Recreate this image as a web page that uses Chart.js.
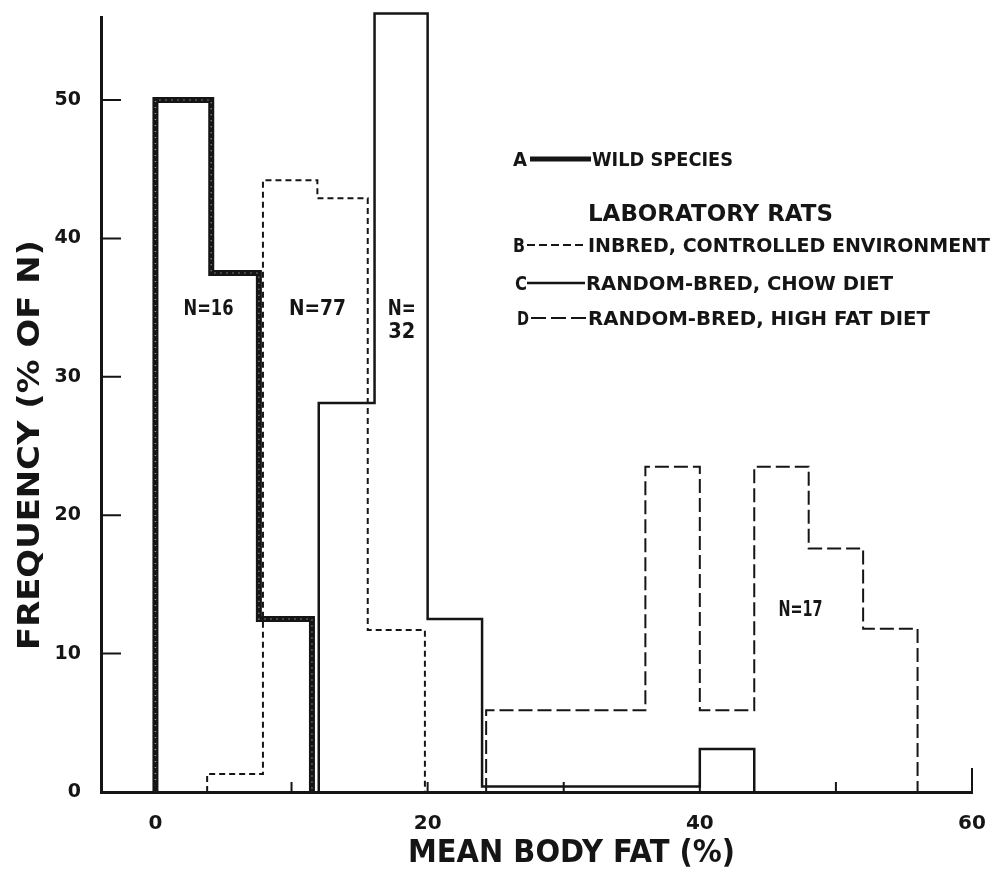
<!DOCTYPE html>
<html>
<head>
<meta charset="utf-8">
<script src="https://cdn.jsdelivr.net/npm/chart.js@4.4.1/dist/chart.umd.min.js"></script>
<style>
  html, body { margin: 0; padding: 0; background: #fff; }
  #wrap { position: relative; width: 993px; height: 875px; }
</style>
</head>
<body>
<div id="wrap"><canvas id="fatChart"></canvas></div>
<script>
// histogram bin edges (mean body fat, %) and frequencies (% of N)
const wildEdges = [0, 4.1, 7.6, 11.5];
const wildFreq = [50, 37.5, 12.5];
const inbredEdges = [3.8, 7.9, 11.9, 15.6, 19.8];
const inbredFreq = [1.3, 44.2, 42.9, 11.7];
const chowEdges = [12, 16.1, 20, 24, 40, 44];
const chowFreq = [28.1, 56.25, 12.5, 0.4, 3.1];
const fatEdges = [24.3, 36, 40, 44, 48, 52, 56];
const fatFreq = [5.9, 23.5, 5.9, 23.5, 17.6, 11.8];

const xTickLabels = [0, 20, 40, 60];
const xTickMarks = [0, 10, 20, 30, 40, 50, 60];
const yTickLabels = [0, 10, 20, 30, 40, 50];

const seriesNames = [
  "WILD SPECIES",
  "INBRED, CONTROLLED ENVIRONMENT",
  "RANDOM-BRED, CHOW DIET",
  "RANDOM-BRED, HIGH FAT DIET",
];
const sampleSizes = ["N=16", "N=77", "N=32", "N=17"];

const FONT = '"DejaVu Sans", sans-serif';
const INK = "#151515";

function histPoints(edges, freq) {
  const pts = [{ x: edges[0], y: 0 }];
  freq.forEach((v, i) => {
    pts.push({ x: edges[i], y: v });
    pts.push({ x: edges[i + 1], y: v });
  });
  pts.push({ x: edges[edges.length - 1], y: 0 });
  return pts;
}

// draws caps text squeezed/stretched to a measured width
function fitText(ctx, text, x, baseline, size, width, align) {
  ctx.save();
  ctx.font = "bold " + size + "px " + FONT;
  const sx = width / ctx.measureText(text).width;
  ctx.translate(x, baseline);
  ctx.scale(sx, 1);
  ctx.textAlign = align || "left";
  ctx.textBaseline = "alphabetic";
  ctx.fillStyle = INK;
  ctx.fillText(text, 0, 0);
  ctx.restore();
}

function swatch(ctx, x1, x2, y, width, dash) {
  ctx.save();
  ctx.strokeStyle = INK;
  ctx.lineWidth = width;
  ctx.setLineDash(dash);
  ctx.beginPath();
  ctx.moveTo(x1, y);
  ctx.lineTo(x2, y);
  ctx.stroke();
  ctx.restore();
}

const decorations = {
  id: "decorations",
  afterDatasetsDraw(chart) {
    const ctx = chart.ctx;
    const xs = chart.scales.x;
    const ys = chart.scales.y;

    // speckle inside the thick wild-species outline
    const pts = chart.getDatasetMeta(0).data;
    ctx.save();
    ctx.strokeStyle = "rgba(255,255,255,0.55)";
    ctx.lineWidth = 1.5;
    ctx.setLineDash([1, 5]);
    ctx.beginPath();
    pts.forEach((p, i) => (i ? ctx.lineTo(p.x, p.y) : ctx.moveTo(p.x, p.y)));
    ctx.stroke();
    ctx.restore();

    // inward tick marks
    ctx.save();
    ctx.strokeStyle = INK;
    ctx.lineWidth = 2;
    ctx.beginPath();
    yTickLabels.forEach((v) => {
      const y = ys.getPixelForValue(v);
      ctx.moveTo(xs.left, y);
      ctx.lineTo(xs.left + 20, y);
    });
    xTickMarks.forEach((v) => {
      const x = xs.getPixelForValue(v);
      ctx.moveTo(x, ys.bottom);
      ctx.lineTo(x, ys.bottom - (v === 60 ? 24 : 10));
    });
    ctx.stroke();
    ctx.restore();

    // sample sizes
    const nAt = (t, xv, yv, w) =>
      fitText(ctx, t, xs.getPixelForValue(xv), ys.getPixelForValue(yv), 22, w, "center");
    nAt(sampleSizes[0], 3.9, 34.5, 50);
    nAt(sampleSizes[1], 11.9, 34.5, 57);
    nAt("N=", 18.1, 34.5, 28);
    nAt(sampleSizes[2].slice(2), 18.1, 32.8, 27);
    nAt(sampleSizes[3], 47.4, 12.7, 44);

    // legend
    fitText(ctx, "A", 513, 166, 19, 14);
    swatch(ctx, 530, 591, 159, 5, []);
    swatch(ctx, 530, 591, 159, 1.2, [1, 4]);
    fitText(ctx, seriesNames[0], 592, 166, 19, 141);

    fitText(ctx, "LABORATORY RATS", 588, 221, 23, 245);

    fitText(ctx, "B", 513, 252, 20, 12);
    swatch(ctx, 527, 587, 245, 2, [8, 4]);
    fitText(ctx, seriesNames[1], 588, 252, 20, 402);

    fitText(ctx, "C", 515, 290, 20, 12);
    swatch(ctx, 527, 585, 283, 2.5, []);
    fitText(ctx, seriesNames[2], 586, 290, 20, 307);

    fitText(ctx, "D", 517, 325, 20, 12);
    swatch(ctx, 531, 587, 318, 2, [15, 5]);
    fitText(ctx, seriesNames[3], 588, 325, 20, 342);

    // axis titles
    fitText(ctx, "MEAN BODY FAT (%)", 408, 862, 32, 327);
    ctx.save();
    ctx.translate(39, 445);
    ctx.rotate(-Math.PI / 2);
    fitText(ctx, "FREQUENCY (% OF N)", 0, 0, 30, 410, "center");
    ctx.restore();
  },
};

const tickFont = { family: FONT, weight: "bold", size: 20 };

new Chart(document.getElementById("fatChart"), {
  type: "line",
  data: {
    datasets: [
      {
        label: seriesNames[0],
        data: histPoints(wildEdges, wildFreq),
        borderColor: INK,
        borderWidth: 6,
      },
      {
        label: seriesNames[1],
        data: histPoints(inbredEdges, inbredFreq),
        borderColor: INK,
        borderWidth: 2,
        borderDash: [6, 4],
      },
      {
        label: seriesNames[2],
        data: histPoints(chowEdges, chowFreq),
        borderColor: INK,
        borderWidth: 2.5,
        clip: false,
      },
      {
        label: seriesNames[3],
        data: histPoints(fatEdges, fatFreq),
        borderColor: INK,
        borderWidth: 2,
        borderDash: [14, 5],
      },
    ],
  },
  options: {
    responsive: true,
    maintainAspectRatio: false,
    animation: false,
    events: [],
    layout: {
      padding: { top: 17, right: 21, left: 0, bottom: 0 },
    },
    elements: {
      point: { radius: 0 },
      line: { tension: 0, fill: false, borderJoinStyle: "miter", borderCapStyle: "butt" },
    },
    scales: {
      x: {
        type: "linear",
        min: -4,
        max: 60,
        afterBuildTicks: (scale) => {
          scale.ticks = xTickLabels.map((v) => ({ value: v }));
        },
        afterFit: (scale) => {
          scale.height = 83;
          scale.paddingLeft = 0;
          scale.paddingRight = 0;
        },
        grid: { display: false, drawTicks: false },
        border: { display: true, width: 3, color: INK },
        ticks: { font: tickFont, color: INK, padding: 20, maxRotation: 0 },
      },
      y: {
        min: 0,
        max: 56,
        afterBuildTicks: (scale) => {
          scale.ticks = yTickLabels.map((v) => ({ value: v }));
        },
        afterFit: (scale) => {
          scale.width = 101;
          scale.paddingTop = 0;
          scale.paddingBottom = 0;
        },
        grid: { display: false, drawTicks: false },
        border: { display: true, width: 3, color: INK },
        ticks: { font: { family: FONT, weight: "bold", size: 19 }, color: INK, padding: 20 },
      },
    },
    plugins: {
      legend: { display: false },
      tooltip: { enabled: false },
    },
  },
  plugins: [decorations],
});
</script>
</body>
</html>
